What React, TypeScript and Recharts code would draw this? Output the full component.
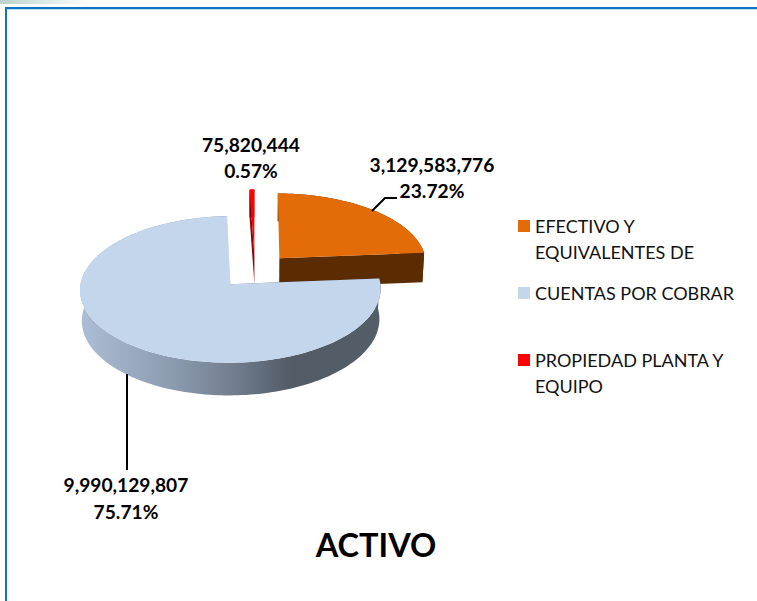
import React from 'react';
import { PieChart, Pie, Legend } from 'recharts';

const categories = ['EFECTIVO Y EQUIVALENTES DE', 'CUENTAS POR COBRAR', 'PROPIEDAD PLANTA Y EQUIPO'];
const values = [3129583776, 9990129807, 75820444];

const topColors = ['#e36c09', '#c3d6ec', '#ff0000'];
const wallColors = ['#5b2c02', 'url(#blueWall)', '#8a0505'];

const labelSpots = [
  { x: 432, y1: 172, y2: 198 },
  { x: 126, y1: 492, y2: 519 },
  { x: 251, y1: 152, y2: 178 },
];
const leaderLines = ['372,211 385,198 397,198', '127,374 127,470', ''];
const legendTops = [213, 280, 347];

const FONT = 'Lato, "Open Sans", sans-serif';

// the sheet is drawn in 3D: ground plane projected to the screen with a bit of perspective
const EXPLODE = 0.246;
const PERSPECTIVE = 0.07;
const TILT = 0.48;
const DEPTH = 30;

const data = categories.map((name, i) => ({ name, value: values[i], fill: topColors[i] }));

const rad = (d: number) => (d * Math.PI) / 180;

const makeProjector = ({ cx, cy, outerRadius, midAngle }: any) => {
  const mid = rad(90 - midAngle);
  const ox = EXPLODE * Math.sin(mid);
  const oy = -EXPLODE * Math.cos(mid);
  return (theta: number, r: number, down: number): [number, number] => {
    const gx = ox + r * Math.sin(theta);
    const gy = oy - r * Math.cos(theta);
    const s = 1 / (1 - PERSPECTIVE * gy);
    return [
      cx + outerRadius * gx * s * (1 - 0.01 * down),
      cy + TILT * outerRadius * gy * s + DEPTH * down * s,
    ];
  };
};

const arcPoints = (props: any, down: number) => {
  const project = makeProjector(props);
  const from = 90 - props.startAngle;
  const to = 90 - props.endAngle;
  const steps = Math.max(4, Math.ceil((to - from) / 1.5));
  const pts: [number, number][] = [];
  for (let i = 0; i <= steps; i++) {
    pts.push(project(rad(from + ((to - from) * i) / steps), 1, down));
  }
  return pts;
};

const toPath = (pts: [number, number][]) =>
  'M' + pts.map((p) => `${p[0].toFixed(2)},${p[1].toFixed(2)}`).join('L') + 'Z';

const TopFace = (props: any) => {
  const project = makeProjector(props);
  const pts = [project(0, 0, 0), ...arcPoints(props, 0)];
  return <path d={toPath(pts)} fill={props.fill} />;
};

const SideFace = (props: any) => {
  const project = makeProjector(props);
  const top = arcPoints(props, 0);
  const bottom = arcPoints(props, 1);
  const first = top[0];
  const last = top[top.length - 1];
  // only the cut that looks towards the viewer shows
  const cut = first[1] > last[1] ? [first, bottom[0]] : [last, bottom[bottom.length - 1]];
  const fill = wallColors[props.index];
  return (
    <g>
      <path d={toPath([project(0, 0, 0), cut[0], cut[1], project(0, 0, 1)])} fill={fill} />
      <path d={toPath([...top, ...bottom.reverse()])} fill={fill} />
    </g>
  );
};

const renderLabel = ({ index, value, percent }: any) => {
  const spot = labelSpots[index];
  return (
    <g key={index}>
      {leaderLines[index] && (
        <polyline points={leaderLines[index]} fill="none" stroke="#000" strokeWidth={2} />
      )}
      <text x={spot.x} y={spot.y1} textAnchor="middle" fontFamily={FONT} fontWeight={700} fontSize={19.2} fill="#000">
        {value.toLocaleString('en-US')}
      </text>
      <text x={spot.x} y={spot.y2} textAnchor="middle" fontFamily={FONT} fontWeight={700} fontSize={19.2} fill="#000">
        {(percent * 100).toFixed(2)}%
      </text>
    </g>
  );
};

const LegendBox = () => (
  <div style={{ position: 'relative', width: 239, height: 230, fontFamily: FONT, fontSize: 18, lineHeight: '26px', color: '#111' }}>
    {data.map((d, i) => (
      <div key={d.name} style={{ position: 'absolute', left: 0, top: legendTops[i] - legendTops[0], width: 239 }}>
        <span style={{ position: 'absolute', left: 0, top: 7, width: 12, height: 12, background: d.fill }} />
        <div style={{ marginLeft: 17, width: 205 }}>{d.name}</div>
      </div>
    ))}
  </div>
);

export default function App() {
  return (
    <div style={{ position: 'absolute', left: 0, top: 0, width: 757, height: 601, background: '#fff', overflow: 'hidden' }}>
      <div style={{ position: 'absolute', left: 0, top: 0, width: 90, height: 4, background: 'linear-gradient(90deg, #b9d2cd, #ffffff)' }} />
      <div style={{ position: 'absolute', left: 7, top: 9, width: 750, height: 1, background: '#bcdcf3' }} />
      <div style={{ position: 'absolute', left: 5, top: 6.5, width: 752, height: 595, boxSizing: 'border-box', borderLeft: '2px solid #1172c4', borderTop: '2px solid #1172c4' }} />
      <PieChart width={757} height={601} margin={{ top: 0, right: 0, bottom: 0, left: 0 }}>
        <defs>
          <linearGradient id="blueWall" gradientUnits="userSpaceOnUse" x1="83" y1="0" x2="380" y2="0">
            <stop offset="0%" stopColor="#abbdd4" />
            <stop offset="30%" stopColor="#8c9bb0" />
            <stop offset="50%" stopColor="#737f90" />
            <stop offset="70%" stopColor="#525b66" />
            <stop offset="100%" stopColor="#535e69" />
          </linearGradient>
        </defs>
        <Pie
          data={data}
          dataKey="value"
          nameKey="name"
          cx={255}
          cy={271}
          outerRadius={148}
          startAngle={90}
          endAngle={-270}
          stroke="none"
          legendType="none"
          shape={SideFace}
          isAnimationActive={false}
        />
        <Pie
          data={data}
          dataKey="value"
          nameKey="name"
          cx={255}
          cy={271}
          outerRadius={148}
          startAngle={90}
          endAngle={-270}
          stroke="none"
          shape={TopFace}
          label={renderLabel}
          labelLine={false}
          isAnimationActive={false}
        />
        <Legend
          content={<LegendBox />}
          wrapperStyle={{ position: 'absolute', left: 518, top: legendTops[0], width: 239, height: 230 }}
        />
        <text x={376} y={557} textAnchor="middle" fontFamily={FONT} fontWeight={700} fontSize={32.5} fill="#000">
          ACTIVO
        </text>
      </PieChart>
    </div>
  );
}
